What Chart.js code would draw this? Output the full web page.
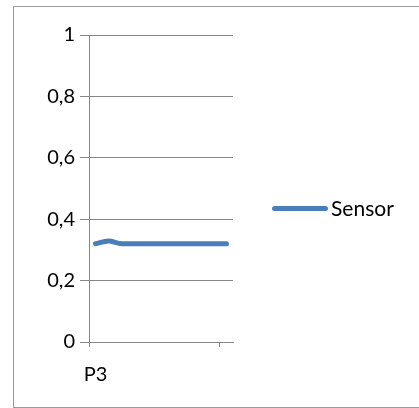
<!DOCTYPE html>
<html>
<head>
<meta charset="utf-8">
<script src="https://cdn.jsdelivr.net/npm/chart.js@4.4.0/dist/chart.umd.min.js"></script>
<style>
  html, body { margin: 0; padding: 0; background: #fff; overflow: hidden; }
  #wrap { position: relative; width: 419px; height: 408px; font-family: Lato, sans-serif; }
  #frame { position: absolute; left: 13px; top: 6px; width: 420px; height: 400px; border: 1px solid #9a9a9a; }
  canvas { position: absolute; left: 0; top: 0; }
  #legend { position: absolute; left: 272px; top: 196px; display: flex; align-items: center; height: 24px; }
  #legend .swatch { width: 56px; height: 5px; border-radius: 3px; margin-right: 3px; }
  #legend .txt { font-size: 21px; color: #000; line-height: 24px; }
</style>
</head>
<body>
<div id="wrap">
  <div id="frame"></div>
  <canvas id="sensorChart" width="419" height="408"></canvas>
  <div id="legend"></div>
</div>
<script>
const categories = ['P3', 'P4', 'P5', 'P6', 'P7', 'P8', 'P9', 'P10', 'P11', 'P12', 'P13'];
const sensorValues = [0.32, 0.329, 0.32, 0.32, 0.32, 0.32, 0.32, 0.32, 0.32, 0.32, 0.32];
const yTicks = [0, 0.2, 0.4, 0.6, 0.8, 1];

const axisGray = '#868686';
const font = { family: 'Lato', size: 20 };

// html legend, filled from the chart's own legend items
const htmlLegend = {
    id: 'htmlLegend',
    afterUpdate(chart) {
        const box = document.getElementById('legend');
        box.innerHTML = '';
        chart.data.datasets.forEach((ds) => {
            const sw = document.createElement('span');
            sw.className = 'swatch';
            sw.style.background = ds.borderColor;
            const tx = document.createElement('span');
            tx.className = 'txt';
            tx.textContent = ds.label;
            box.append(sw, tx);
        });
    },
};

new Chart(document.getElementById('sensorChart'), {
    type: 'line',
    data: {
        labels: categories,
        datasets: [{
            label: 'Sensor',
            data: sensorValues,
            borderColor: '#4a7ebb',
            borderWidth: 5,
            borderCapStyle: 'round',
            cubicInterpolationMode: 'monotone',
            pointRadius: 0,
            fill: false,
        }],
    },
    options: {
        responsive: false,
        animation: false,
        layout: { padding: { top: 35, right: 186, bottom: 0, left: 0 } },
        plugins: {
            tooltip: { enabled: false },
            legend: { display: false },
        },
        scales: {
            x: {
                offset: true,
                grid: {
                    offset: true,
                    drawOnChartArea: false,
                    tickLength: 5,
                    color: (c) => (c.index === 0 || c.index === 10 ? axisGray : 'rgba(0,0,0,0)'),
                },
                border: { color: axisGray, width: 1 },
                ticks: {
                    color: '#000',
                    font,
                    padding: 16,
                    maxRotation: 0,
                    autoSkip: false,
                    callback: (v, i) => (i === 0 ? categories[i] : ''),
                },
                afterFit: (s) => { s.height = 66; },
            },
            y: {
                min: 0,
                max: 1,
                afterBuildTicks: (s) => { s.ticks = yTicks.map((v) => ({ value: v })); },
                grid: { color: axisGray, tickLength: 9 },
                border: { color: axisGray, width: 1 },
                ticks: {
                    color: '#000',
                    font,
                    padding: 5,
                    callback: (v) => String(Math.round(v * 10) / 10).replace('.', ','),
                },
                afterFit: (s) => { s.width = 89; },
            },
        },
    },
    plugins: [htmlLegend],
});
</script>
</body>
</html>
